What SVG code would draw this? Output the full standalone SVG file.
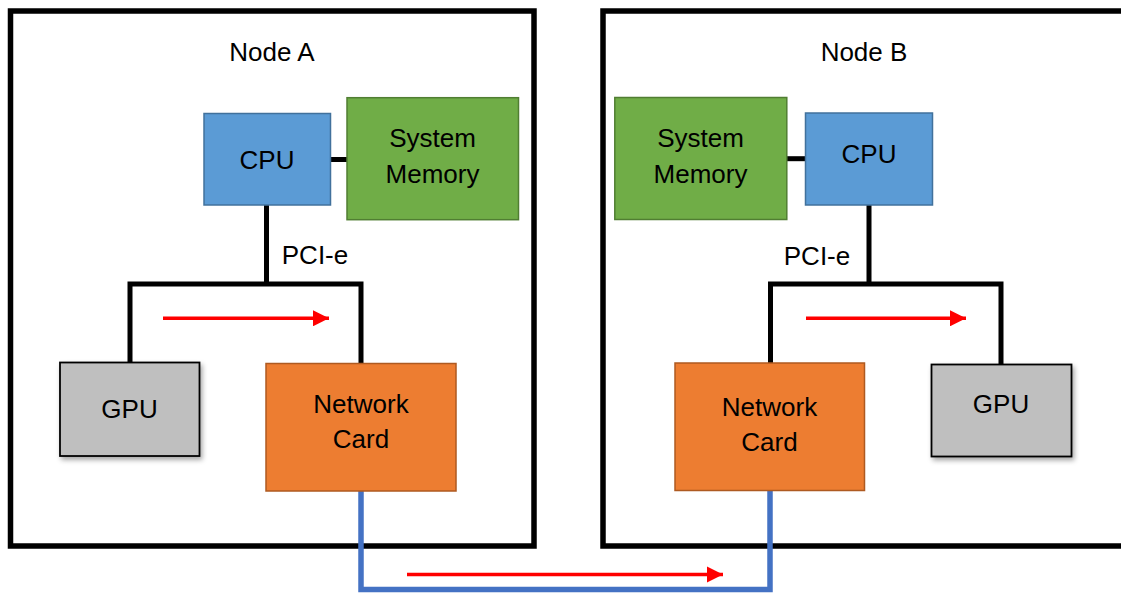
<svg xmlns="http://www.w3.org/2000/svg" width="1121" height="593" viewBox="0 0 1121 593">
<style>
text{font-family:"Liberation Sans",Arial,sans-serif;font-size:26px;fill:#000;text-anchor:middle}
.frame{fill:none;stroke:#000;stroke-width:5.5}
.cpu{fill:#5B9BD5;stroke:#41719C;stroke-width:1.5}
.mem{fill:#70AD47;stroke:#507E32;stroke-width:1.5}
.gpu{fill:#BFBFBF;stroke:#000;stroke-width:1.8}
.nic{fill:#ED7D31;stroke:#AE5A21;stroke-width:1.5}
.bus{fill:none;stroke:#000;stroke-width:5}
.flow{fill:none;stroke:#FF0000;stroke-width:3.5}
.link{fill:none;stroke:#4472C4;stroke-width:5.5}
</style>
<defs>
<marker id="ah" viewBox="0 0 10 10" refX="10" refY="5" markerWidth="4.6" markerHeight="4.6" markerUnits="strokeWidth" orient="auto">
<path d="M0,0 L10,5 L0,10 Z" fill="#FF0000"/>
</marker>
<filter id="sh" x="-10%" y="-10%" width="130%" height="130%">
<feDropShadow dx="2" dy="3" stdDeviation="2.5" flood-color="#000" flood-opacity="0.35"/>
</filter>
</defs>
<rect width="1121" height="593" fill="#fff"/>

<g id="nodeA">
<rect class="frame" x="10.5" y="11" width="523.5" height="535"/>
<text x="272" y="61">Node A</text>
</g>
<g id="nodeB">
<rect class="frame" x="603" y="11" width="540" height="535"/>
<text x="864" y="61">Node B</text>
</g>

<g id="connectors">
<path class="bus" d="M330,159.5 H347"/>
<path class="bus" d="M266.5,205 V284 M130,362 V284 H361 V363"/>
<text x="315" y="263.5">PCI-e</text>
<path class="bus" d="M787,158.7 H805.5"/>
<path class="bus" d="M869,205 V284 M770.5,363 V284 H1001 V364"/>
<text x="817" y="265">PCI-e</text>
<path class="flow" d="M163,318.3 H329" marker-end="url(#ah)"/>
<path class="flow" d="M806,318.3 H966" marker-end="url(#ah)"/>
<path class="flow" d="M407,574.5 H723" marker-end="url(#ah)"/>
<path class="link" d="M361,491 V589.5 H770 V491"/>
</g>

<g id="cpuA">
<rect class="cpu" x="204" y="113.5" width="126.5" height="91.5"/>
<text x="267" y="169">CPU</text>
</g>
<g id="memA">
<rect class="mem" x="347" y="97.7" width="171.5" height="122"/>
<text x="432.5" y="147">System</text>
<text x="432.5" y="183">Memory</text>
</g>
<g id="gpuA">
<rect class="gpu" x="60" y="362.5" width="139.5" height="93.5" filter="url(#sh)"/>
<text x="129.5" y="418">GPU</text>
</g>
<g id="nicA">
<rect class="nic" x="266" y="363.5" width="190" height="127.5"/>
<text x="361" y="413">Network</text>
<text x="361" y="448">Card</text>
</g>

<g id="memB">
<rect class="mem" x="614.8" y="97.5" width="172" height="122"/>
<text x="700.5" y="147">System</text>
<text x="700.5" y="183">Memory</text>
</g>
<g id="cpuB">
<rect class="cpu" x="805.5" y="113" width="127" height="92"/>
<text x="869" y="162.5">CPU</text>
</g>
<g id="nicB">
<rect class="nic" x="675" y="363" width="189.5" height="127.5"/>
<text x="769.5" y="415.5">Network</text>
<text x="769.5" y="450.5">Card</text>
</g>
<g id="gpuB">
<rect class="gpu" x="931.5" y="364.5" width="140" height="92" filter="url(#sh)"/>
<text x="1001" y="413">GPU</text>
</g>
</svg>
